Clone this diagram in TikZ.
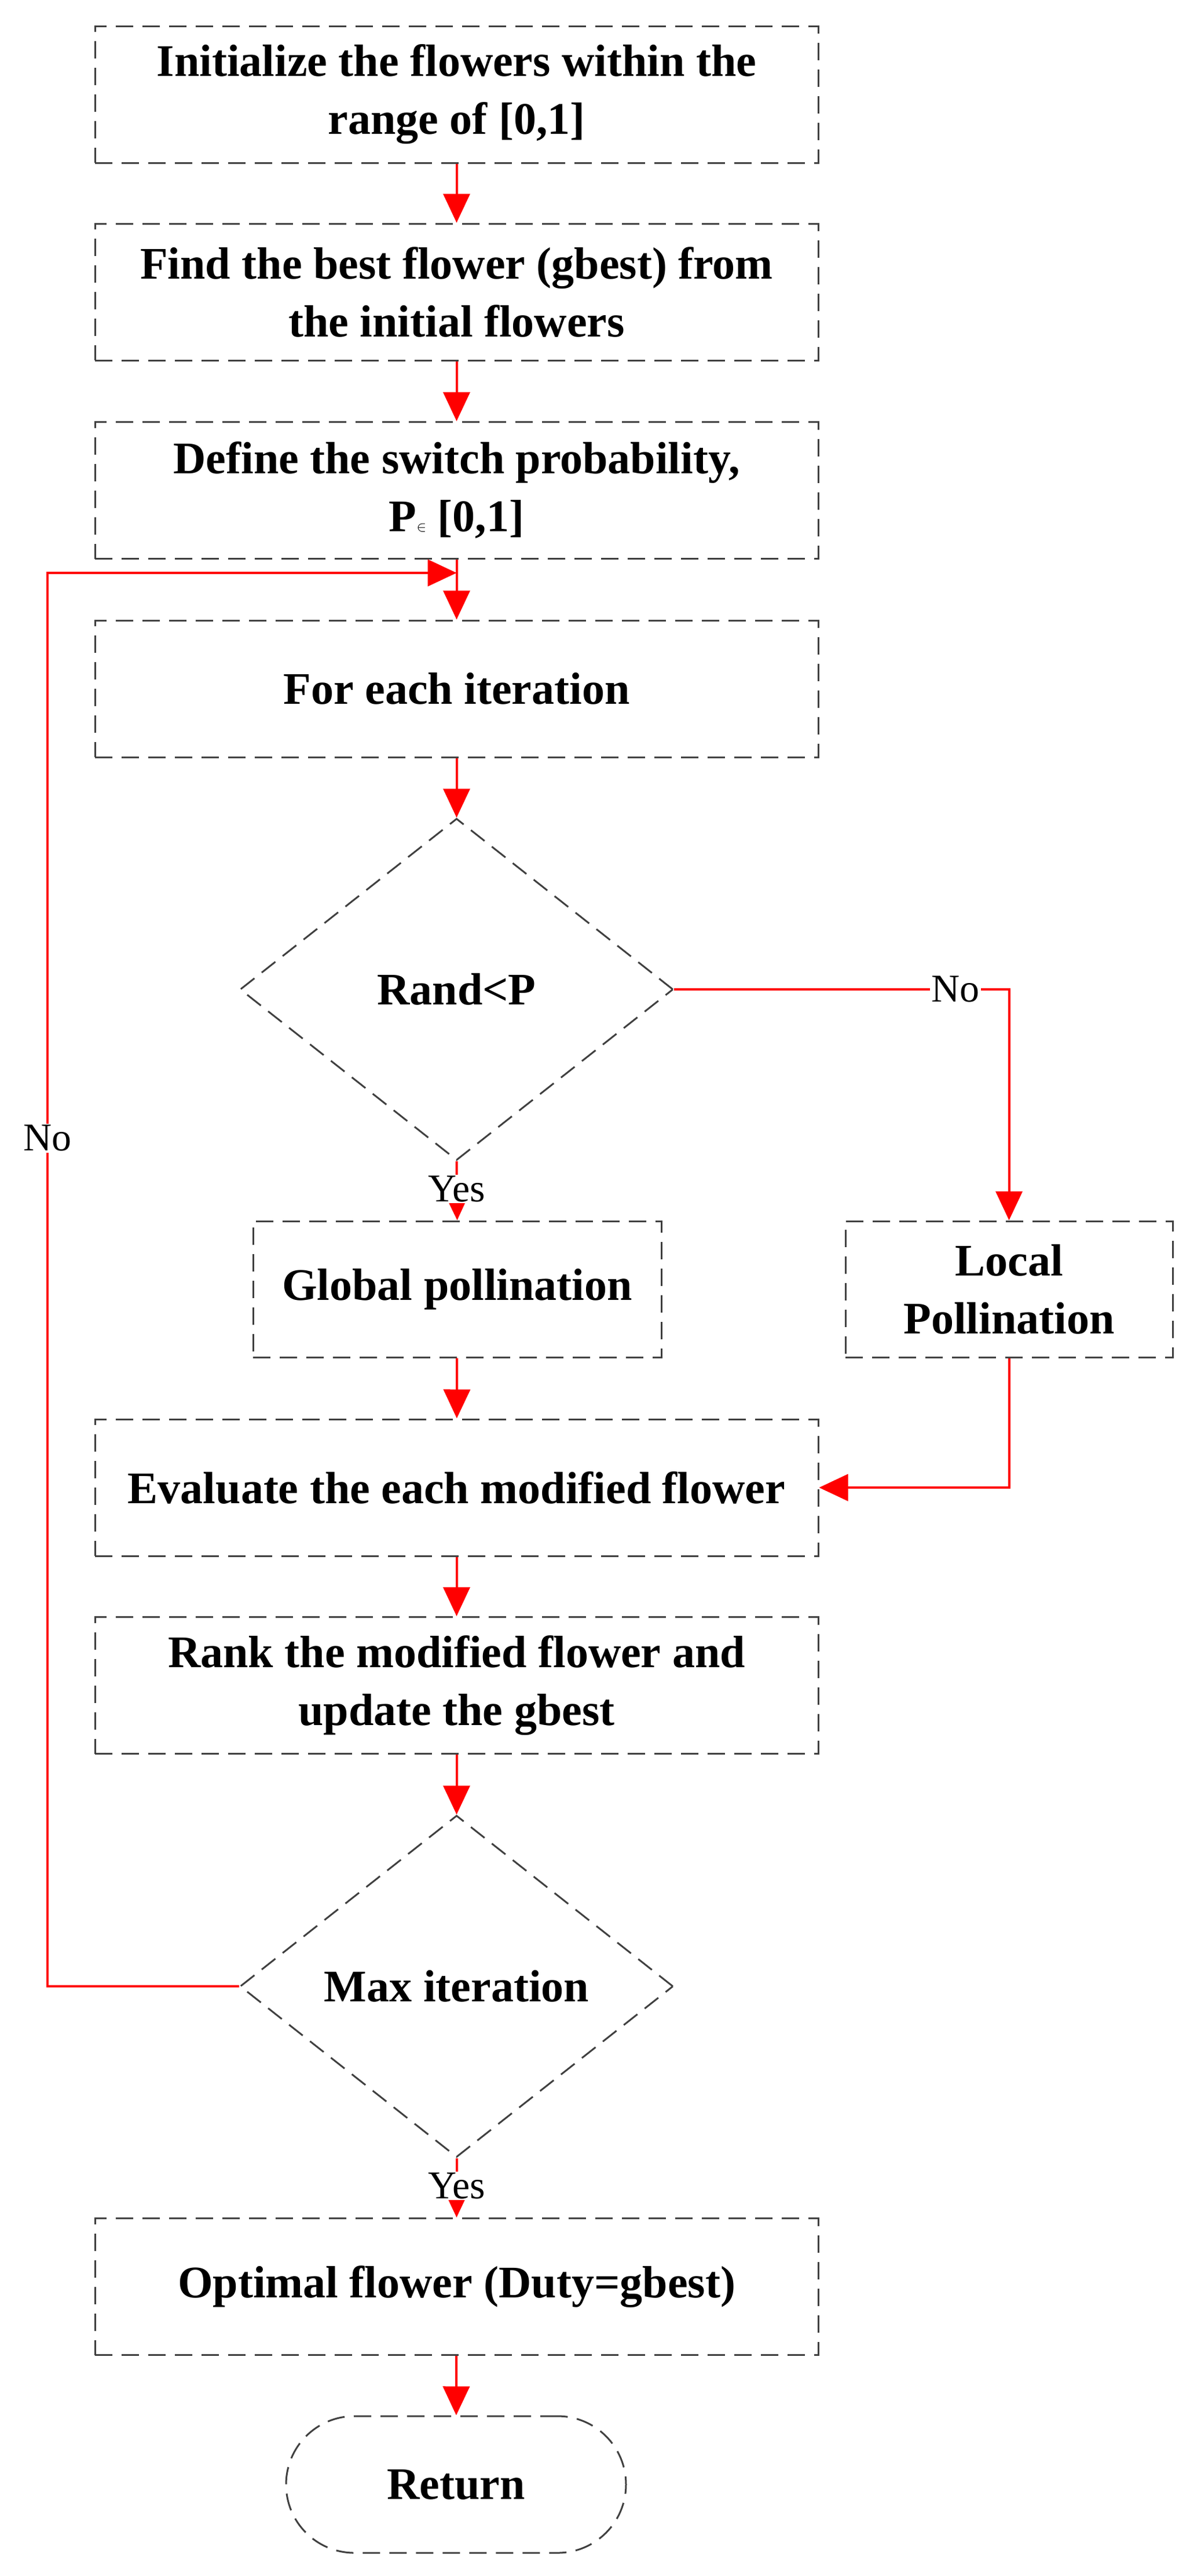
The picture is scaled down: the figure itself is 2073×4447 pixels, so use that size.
\documentclass[tikz,border=0pt]{standalone}
\usepackage{fontspec}
\setmainfont{Liberation Serif}
\usetikzlibrary{shapes.geometric,arrows.meta}
\begin{document}
\begin{tikzpicture}[x=1pt,y=-1pt,
  box/.style={draw=black!75,line width=3pt,dash pattern=on 30pt off 16pt,rectangle,minimum width=1249pt,minimum height=236pt,inner sep=0pt,align=center,font=\fontsize{78}{100}\selectfont\bfseries},
  dia/.style={draw=black!75,line width=3pt,dash pattern=on 30pt off 16pt,diamond,minimum width=748pt,minimum height=590pt,inner sep=0pt,font=\fontsize{78}{100}\selectfont\bfseries},
  arr/.style={draw=red,line width=4pt,-{Triangle[length=50pt,width=46pt]}},
  ln/.style={draw=red,line width=4pt},
  lab/.style={fill=white,inner sep=2pt,font=\fontsize{68}{80}\selectfont}]
\useasboundingbox (0,0) rectangle (2073,4447);
\node[box] (b1) at (788.5,163) {Initialize the flowers within the\\range of [0,1]};
\node[box] (b2) at (788.5,504) {Find the best flower (gbest) from\\the initial flowers};
\node[box] (b3) at (788.5,846.5) {Define the switch probability,\\P$\in$ [0,1]};
\node[box] (b4) at (788.5,1189) {For each iteration};
\node[dia] (d1) at (788.5,1708) {Rand<P};
\node[box,minimum width=705pt,minimum height=235pt] (g) at (789.5,2225.5) {Global pollination};
\node[box,minimum width=565pt,minimum height=235pt] (l) at (1742.5,2225.5) {Local\\Pollination};
\node[box] (e) at (788.5,2568) {Evaluate the each modified flower};
\node[box] (r) at (788.5,2909.5) {Rank the modified flower and\\update the gbest};
\node[dia] (d2) at (788.5,3429) {Max iteration};
\node[box] (o) at (788.5,3947.5) {Optimal flower (Duty=gbest)};
\node[box,minimum width=587pt,rounded corners=118pt] (ret) at (787.5,4289) {Return};
\coordinate (m) at (788.5,989);
\coordinate (lp) at (82,989);
\draw[arr] (b1) -- (b2);
\draw[arr] (b2) -- (b3);
\draw[arr] (b3) -- (b4);
\draw[arr] (b4) -- (d1);
\draw[arr] (d1.south) -- node[lab,pos=0.47]{Yes} (g.north);
\draw[arr] (d1.east) -- node[lab,pos=0.84]{No} (l.north |- d1.east) -- (l.north);
\draw[arr] (l.south) |- (e.east);
\draw[arr] (g) -- (e);
\draw[arr] (e) -- (r);
\draw[arr] (r) -- (d2);
\draw[arr] (d2.south) -- node[lab,pos=0.47]{Yes} (o.north);
\draw[arr] (o) -- (ret);
\draw[arr] (d2.west) -| node[lab,pos=0.8]{No} (lp) -- (m);
\end{tikzpicture}
\end{document}
